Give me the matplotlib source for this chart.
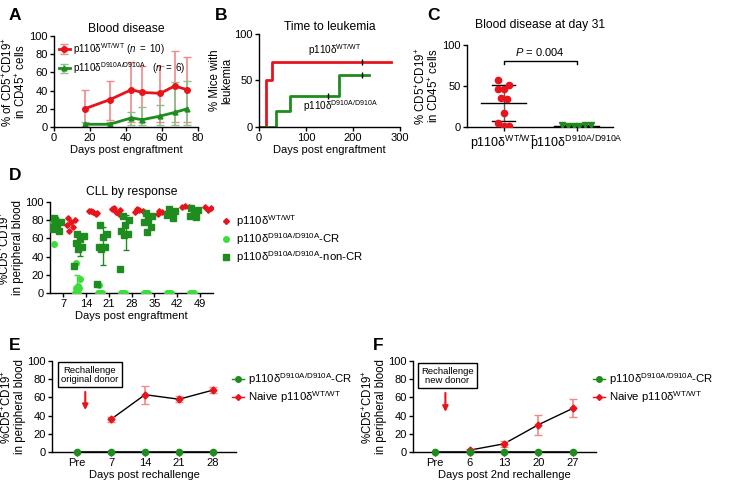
import numpy as np
import matplotlib.pyplot as plt

plt.rcParams['font.family'] = ['Liberation Sans', 'DejaVu Sans']
plt.rcParams['mathtext.fontset'] = 'custom'
plt.rcParams['mathtext.rm'] = 'Liberation Sans'
plt.rcParams['mathtext.it'] = 'Liberation Sans:italic'
plt.rcParams['font.size'] = 8
plt.rcParams['axes.linewidth'] = 1.0

RED = '#e8141c'
PINK = '#f08a8a'
DKGREEN = '#1e8c1e'
LTGREEN = '#3ddc3d'

WT = 'p110δ$^{\\mathrm{WT/WT}}$'
DA = 'p110δ$^{\\mathrm{D910A/D910A}}$'
CD = '%CD5$^{+}$CD19$^{+}$'

# A: blood disease
a_days = [17, 31, 43, 49, 59, 67, 74]
a_wt = [20, 30, 41, 38, 37, 45, 41]
a_wt_lo = [20, 22, 36, 33, 32, 40, 36]
a_wt_hi = [21, 21, 30, 29, 30, 38, 36]
a_da = [3, 3, 10, 8, 12, 16, 20]
a_da_lo = [3, 3, 8, 6, 10, 14, 18]
a_da_hi = [2, 2, 7, 14, 12, 33, 31]

# B: time to leukemia (step curves)
b_wt_t = [0, 15, 28, 280]
b_wt_v = [0, 50, 70, 70]
b_da_t = [0, 37, 67, 170, 235]
b_da_v = [0, 17, 33, 56, 56]
b_wt_cens = [220]
b_da_cens = [147, 220]

# C: blood disease at day 31
c_wt = [57, 46, 46, 51, 34, 35, 17, 5, 1, 1]
c_da = [3, 1, 1, 1.5, 2, 2]

# D: CLL by response
d_days = [7, 14, 21, 28, 35, 42, 49]
d_wt = [[82, 80, 78, 75, 72, 68], [90, 88, 89, 90, 87], [93, 91, 89, 92, 87],
        [92, 90, 91, 89], [90, 88, 89, 87], [95, 94, 96], [95, 93, 91]]
d_cr = [[70, 72, 75, 78, 80, 54, 73, 76], [33, 15, 8, 6, 5, 0, 0, 0],
        [9, 0, 0, 0, 0, 0], [0, 0, 0, 0], [0, 0, 0, 0], [0, 0, 0, 0], [0, 0, 0]]
d_ncr = [[82, 78, 75, 70, 68, 80, 72], [65, 63, 59, 55, 50, 48, 30],
         [75, 65, 62, 50, 50, 48, 10], [85, 80, 75, 68, 65, 64, 26],
         [88, 85, 80, 78, 72, 67], [92, 90, 88, 86, 82], [93, 91, 88, 85, 84]]

# E: rechallenge original donor
e_labels = ['Pre', '7', '14', '21', '28']
e_cr = [0, 0, 0, 0, 0]
e_naive = [np.nan, 36, 63, 58, 68]
e_naive_err = [0, 3, 10, 3, 3]

# F: rechallenge new donor
f_labels = ['Pre', '6', '13', '20', '27']
f_cr = [0, 0, 0, 0, 0]
f_naive = [np.nan, 2, 9, 30, 48]
f_naive_err = [0, 1, 3, 11, 10]

fig = plt.figure(figsize=(7.3, 4.9), dpi=100)


def ax_px(l, t, r, b):
    ax = fig.add_axes([l / 730, 1 - b / 490, (r - l) / 730, (b - t) / 490])
    ax.spines['top'].set_visible(False)
    ax.spines['right'].set_visible(False)
    ax.tick_params(direction='out', length=3, width=1, labelsize=8, pad=1.5)
    return ax


def letter(x, y, s):
    fig.text(x / 730, 1 - y / 490, s, fontsize=12.5, fontweight='bold', va='center', ha='left')


def spread(n, lo, hi):
    # deterministic scatter of offsets (golden ratio sequence)
    return lo + (hi - lo) * ((np.arange(n) * 0.618 + 0.3) % 1.0)


# ---- A
ax = ax_px(54, 36, 198, 127)
ax.errorbar(a_days, a_wt, yerr=[a_wt_lo, a_wt_hi], color=RED, ecolor=PINK, lw=2,
            elinewidth=1.2, capsize=3, marker='o', ms=4, label=WT + ' $(n\\ =\\ 10)$')
ax.errorbar(a_days, a_da, yerr=[a_da_lo, a_da_hi], color=DKGREEN, ecolor='#8cc08c', lw=2,
            elinewidth=1.2, capsize=3, marker='^', ms=3.5,
            label=DA + '   $(n\\ =\\ 6)$')
ax.set_xlim(0, 80)
ax.set_ylim(0, 100)
ax.set_xticks([0, 20, 40, 60, 80])
ax.set_yticks([0, 20, 40, 60, 80, 100])
ax.set_title('Blood disease', fontsize=8.7, pad=3)
ax.set_xlabel('Days post engraftment', fontsize=8, labelpad=1)
ax.set_ylabel('% of CD5$^{+}$CD19$^{+}$\nin CD45$^{+}$ cells', fontsize=8.3, labelpad=1,
              linespacing=0.95)
ax.legend(loc='upper left', frameon=False, fontsize=7, handlelength=1.1,
          borderaxespad=0.1, labelspacing=0.35, handletextpad=0.4)
letter(9, 16, 'A')

# ---- B
ax = ax_px(259, 34, 400, 127)
ax.step(b_wt_t, b_wt_v, where='post', color=RED, lw=2)
ax.step(b_da_t, b_da_v, where='post', color=DKGREEN, lw=2)
ax.plot(b_wt_cens, [70], marker='|', color='k', ms=4, ls='none')
ax.plot(b_da_cens, [33, 56], marker='|', color='k', ms=4, ls='none')
ax.text(160, 83, WT, ha='center', va='center', fontsize=7.2)
ax.text(172, 23, DA, ha='center', va='center', fontsize=7.2)
ax.set_xlim(0, 300)
ax.set_ylim(0, 100)
ax.set_xticks([0, 100, 200, 300])
ax.set_yticks([0, 50, 100])
ax.set_title('Time to leukemia', fontsize=8.7, pad=3)
ax.set_xlabel('Days post engraftment', fontsize=8, labelpad=1)
ax.set_ylabel('% Mice with\nleukemia', fontsize=8.3, labelpad=1, linespacing=0.95)
letter(215, 16, 'B')

# ---- C
ax = ax_px(467, 45, 613, 127)
wt_off = [-0.07, -0.07, 0, 0.07, 0.05, -0.04, 0, -0.07, 0, 0.07]
da_off = [-0.2, -0.12, -0.04, 0.04, 0.12, 0.2]
ax.plot([0 + o for o in wt_off], c_wt, 'o', color=RED, ms=4.5, zorder=3)
ax.plot([1 + o for o in da_off], c_da, 'v', color=DKGREEN, ms=4, zorder=3)
for i, vals in enumerate([c_wt, c_da]):
    m, s = np.mean(vals), np.std(vals, ddof=1)
    lo = max(m - s, 0.3)
    ax.plot([i, i], [lo, m + s], color='0.35', lw=1, zorder=2)
    ax.plot([i - 0.31, i + 0.31], [m, m], color='k', lw=1, zorder=2)
    ax.plot([i - 0.16, i + 0.16], [m + s, m + s], color='k', lw=1, zorder=2)
    ax.plot([i - 0.16, i + 0.16], [lo, lo], color='k', lw=1, zorder=2)
ax.plot([0, 0, 1, 1], [77, 80, 80, 77], color='k', lw=1)
ax.text(0.5, 84, '$P$ = 0.004', ha='center', va='bottom', fontsize=8)
ax.set_xlim(-0.5, 1.5)
ax.set_ylim(0, 100)
ax.set_yticks([0, 50, 100])
ax.set_xticks([0, 1])
ax.set_xticklabels([WT, DA], fontsize=9)
ax.set_title('Blood disease at day 31', fontsize=8.7, pad=12)
ax.set_ylabel('% CD5$^{+}$CD19$^{+}$\nin CD45$^{+}$ cells', fontsize=8.3, labelpad=1,
              linespacing=0.95)
letter(427, 16, 'C')

# ---- D
ax = ax_px(50, 202, 213, 293)
for d, wt, cr, ncr in zip(d_days, d_wt, d_cr, d_ncr):
    ax.plot(d + spread(len(cr), -3.4, -1.8), cr, 'o', color=LTGREEN, ms=4, zorder=3)
    ax.plot(d + spread(len(ncr), -3.6, -0.4), ncr, 's', color=DKGREEN, ms=4.5, zorder=3)
    ax.plot(d + spread(len(wt), 0.6, 3.8), wt, 'D', color=RED, ms=2.8, zorder=3)
    if d in (14, 21, 28):
        m, s = np.mean(ncr), np.std(ncr, ddof=1)
        ax.errorbar([d - 1.8], [m], yerr=[s], color=DKGREEN, capsize=2, lw=1, zorder=2)
    if d == 14:
        m, s = np.mean(cr), np.std(cr, ddof=1)
        ax.errorbar([d - 2.6], [m], yerr=[[m], [s]], color=LTGREEN, capsize=2, lw=1, zorder=2)
ax.set_xlim(3, 53)
ax.set_ylim(0, 100)
ax.set_xticks(d_days)
ax.set_yticks([0, 20, 40, 60, 80, 100])
ax.set_title('CLL by response', fontsize=8.7, pad=5)
ax.set_xlabel('Days post engraftment', fontsize=8, labelpad=1)
ax.set_ylabel(CD + '\nin peripheral blood', fontsize=8.3, labelpad=1, linespacing=0.95)
h1, = ax.plot([], [], 'D', color=RED, ms=3)
h2, = ax.plot([], [], 'o', color=LTGREEN, ms=4)
h3, = ax.plot([], [], 's', color=DKGREEN, ms=4.5)
fig.legend([h1, h2, h3], [WT, DA + '-CR', DA + '-non-CR'], loc='upper left',
           bbox_to_anchor=(210 / 730, 1 - 203 / 490), frameon=False, fontsize=8.2,
           handlelength=1.0, labelspacing=0.2, handletextpad=0.4)
letter(9, 175, 'D')


# ---- E and F
def rechallenge(ax, labels, cr, naive, err, box_txt, box_xy, arrow_x, arrow_y):
    x = np.arange(len(labels))
    ax.plot(x, cr, '-', color='#333333', lw=1.5, zorder=2)
    ax.plot(x, cr, 'o', color=DKGREEN, ms=4.5, zorder=4, clip_on=False)
    ax.plot(x, naive, '-', color='k', lw=1, zorder=2)
    ax.errorbar(x, naive, yerr=err, fmt='D', color=RED, ecolor=PINK, ms=3.5,
                capsize=3, elinewidth=1.2, zorder=3)
    ax.set_xticks(x)
    ax.set_xticklabels(labels)
    ax.set_ylim(0, 100)
    ax.set_yticks([0, 20, 40, 60, 80, 100])
    ax.set_ylabel(CD + '\nin peripheral blood', fontsize=8.3, labelpad=1, linespacing=0.95)
    ax.text(box_xy[0], box_xy[1], box_txt, ha='center', va='center', fontsize=6.8,
            linespacing=1.0,
            bbox=dict(boxstyle='square,pad=0.35', fc='white', ec='k', lw=1))
    ax.annotate('', xy=(arrow_x, arrow_y[1]), xytext=(arrow_x, arrow_y[0]),
                arrowprops=dict(arrowstyle='-|>', color=RED, lw=1.5, mutation_scale=8))
    h1, = ax.plot([], [], '-o', color=DKGREEN, ms=4, lw=1)
    h2, = ax.plot([], [], '-D', color=RED, ms=3, lw=1)
    return h1, h2


ax = ax_px(52, 361, 236, 452)
h1, h2 = rechallenge(ax, e_labels, e_cr, e_naive, e_naive_err,
                     'Rechallenge\noriginal donor', (0.38, 85), 0.24, (69, 43))
ax.set_xlim(-0.74, 4.68)
ax.set_xlabel('Days post rechallenge', fontsize=8, labelpad=1)
fig.legend([h1, h2], [DA + '-CR', 'Naive ' + WT], loc='upper left',
           bbox_to_anchor=(222 / 730, 1 - 361 / 490), frameon=False, fontsize=8.2,
           handlelength=1.0, labelspacing=0.2, handletextpad=0.4)
letter(9, 345, 'E')

ax = ax_px(413, 361, 596, 452)
h1, h2 = rechallenge(ax, f_labels, f_cr, f_naive, f_naive_err,
                     'Rechallenge\nnew donor', (0.35, 84), 0.3, (68, 41))
ax.set_xlim(-0.64, 4.67)
ax.set_xlabel('Days post 2nd rechallenge', fontsize=8, labelpad=1)
fig.legend([h1, h2], [DA + '-CR', 'Naive ' + WT], loc='upper left',
           bbox_to_anchor=(583 / 730, 1 - 361 / 490), frameon=False, fontsize=8.2,
           handlelength=1.0, labelspacing=0.2, handletextpad=0.4)
letter(373, 345, 'F')

plt.savefig('out.png', dpi=100)
